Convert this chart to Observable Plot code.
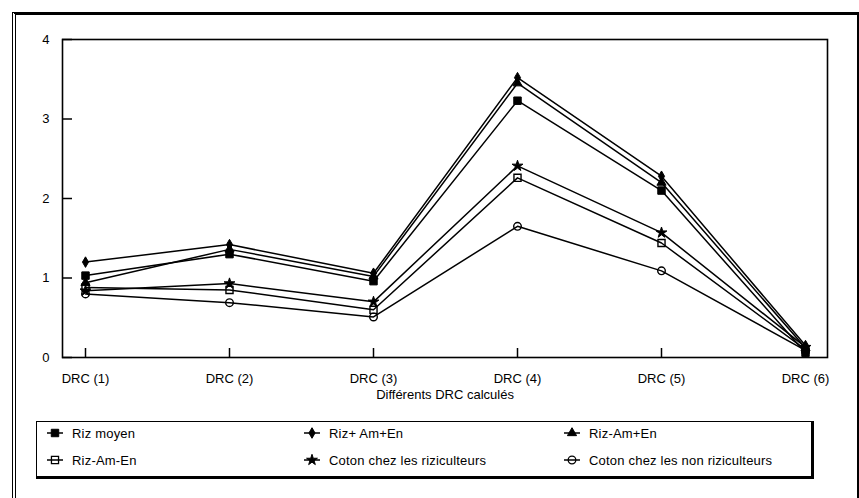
<!DOCTYPE html>
<html><head><meta charset="utf-8">
<script src="https://cdn.jsdelivr.net/npm/d3@7"></script>
<script src="https://cdn.jsdelivr.net/npm/@observablehq/plot@0.6"></script>
<style>
body{margin:0;background:#fff;font-family:"Liberation Sans",Arial,sans-serif;color:#000;}
#page{position:relative;width:859px;height:498px;overflow:hidden;background:#fff;}
#outer{position:absolute;left:12px;top:12px;width:841px;height:520px;border-top:3px solid #000;border-left:4px double #000;border-right:2px solid #000;}
#chart{position:absolute;left:0;top:0;}
#legend{position:absolute;left:36px;top:421px;width:778px;height:58px;border:1.5px solid #000;border-right-width:3px;border-bottom-width:3px;box-sizing:border-box;}
.item{position:absolute;display:flex;align-items:center;font-size:13px;white-space:nowrap;letter-spacing:0.2px;}
.item svg{margin-right:9px;overflow:visible;}
</style></head>
<body><div id="page"><div id="outer"></div><div id="chart"></div><div id="legend"></div></div>
<script>
// ---- data ----
const categories = ["DRC (1)", "DRC (2)", "DRC (3)", "DRC (4)", "DRC (5)", "DRC (6)"];
const seriesNames = ["Riz moyen", "Riz+ Am+En", "Riz-Am+En", "Riz-Am-En", "Coton chez les riziculteurs", "Coton chez les non riziculteurs"];
const rizMoyen      = [1.03, 1.30, 0.96, 3.23, 2.10, 0.06];
const rizPlusAmEn   = [1.20, 1.42, 1.06, 3.52, 2.28, 0.15];
const rizMoinsAmPlusEn  = [0.94, 1.36, 1.02, 3.45, 2.20, 0.12];
const rizMoinsAmMoinsEn = [0.88, 0.85, 0.60, 2.26, 1.44, 0.10];
const cotonRiz      = [0.84, 0.93, 0.70, 2.41, 1.57, 0.13];
const cotonNonRiz   = [0.80, 0.69, 0.51, 1.65, 1.09, 0.09];
const yTicks = [0, 1, 2, 3, 4];
const xLabel = "Différents DRC calculés";
const symbols = ["square", "diamond", "triangle", "square", "star", "circle"];
const filled = [true, true, true, false, true, false];
const markerR = [4.2, 3.2, 3.4, 4, 3.4, 3.8];

const valuesBySeries = [rizMoyen, rizPlusAmEn, rizMoinsAmPlusEn, rizMoinsAmMoinsEn, cotonRiz, cotonNonRiz];
const data = seriesNames.flatMap((s, i) => categories.map((c, j) => ({series: s, cat: c, value: valuesBySeries[i][j]})));

// ---- layout ----
const W = 859, H = 412;
const mL = 62, mR = 32, mT = 39, bottomY = 357;
const mB = H - bottomY;
const plotW = W - mL - mR, plotH = bottomY - mT;

const dotMarks = seriesNames.map((s, i) =>
  Plot.dot(data.filter(d => d.series === s), {
    x: "cat", y: "value", symbol: "series",
    fill: filled[i] ? "#000" : "none", stroke: "#000", strokeWidth: filled[i] ? 1 : 1.4, r: markerR[i]
  })
);

const chart = Plot.plot({
  width: W, height: H,
  marginLeft: mL, marginRight: mR, marginTop: mT, marginBottom: mB,
  style: {fontFamily: "'Liberation Sans', Arial, sans-serif", fontSize: "13px", color: "#000", background: "transparent"},
  x: {type: "point", domain: categories, padding: 0.155, label: null},
  y: {domain: [0, 4], label: null},
  symbol: {domain: seriesNames, range: symbols},
  marks: [
    Plot.frame({stroke: "#000", strokeWidth: 1.6}),
    Plot.axisX({tickSize: 0, tickPadding: 16, label: null, fontSize: 13}),
    Plot.axisY(yTicks, {tickSize: 0, tickPadding: 13, label: null, fontSize: 13, tickFormat: d3.format("d")}),
    Plot.tickY(yTicks, {y: d => d, insetRight: plotW - 10, stroke: "#000", strokeWidth: 1.5}),
    Plot.tickX(categories, {x: d => d, insetTop: plotH - 9, stroke: "#000", strokeWidth: 1.5}),
    Plot.line(data, {x: "cat", y: "value", z: "series", stroke: "#000", strokeWidth: 1.5}),
    ...dotMarks,
    Plot.text([xLabel], {text: d => d, frameAnchor: "bottom", dy: 41, fontSize: 13})
  ]
});
document.getElementById("chart").appendChild(chart);

// ---- legend ----
const d3sym = {square: d3.symbolSquare, diamond: d3.symbolDiamond, triangle: d3.symbolTriangle, star: d3.symbolStar, circle: d3.symbolCircle};
const legend = d3.select("#legend");
const colLeft = [10, 267, 527];
const rowTop = [11, 38];
seriesNames.forEach((name, i) => {
  const col = i % 3, row = Math.floor(i / 3);
  const item = legend.append("div").attr("class", "item")
    .style("left", colLeft[col] + "px").style("top", (rowTop[row] - 8) + "px");
  const svg = item.append("svg").attr("width", 16).attr("height", 16);
  svg.append("line").attr("x1", 0).attr("x2", 16).attr("y1", 8).attr("y2", 8).attr("stroke", "#000").attr("stroke-width", 1.5);
  svg.append("path").attr("transform", "translate(8,8)")
    .attr("d", d3.symbol(d3sym[symbols[i]], Math.PI * markerR[i] * markerR[i])())
    .attr("fill", filled[i] ? "#000" : "none").attr("stroke", "#000").attr("stroke-width", filled[i] ? 1 : 1.3);
  item.append("span").text(name);
});
</script></body></html>
